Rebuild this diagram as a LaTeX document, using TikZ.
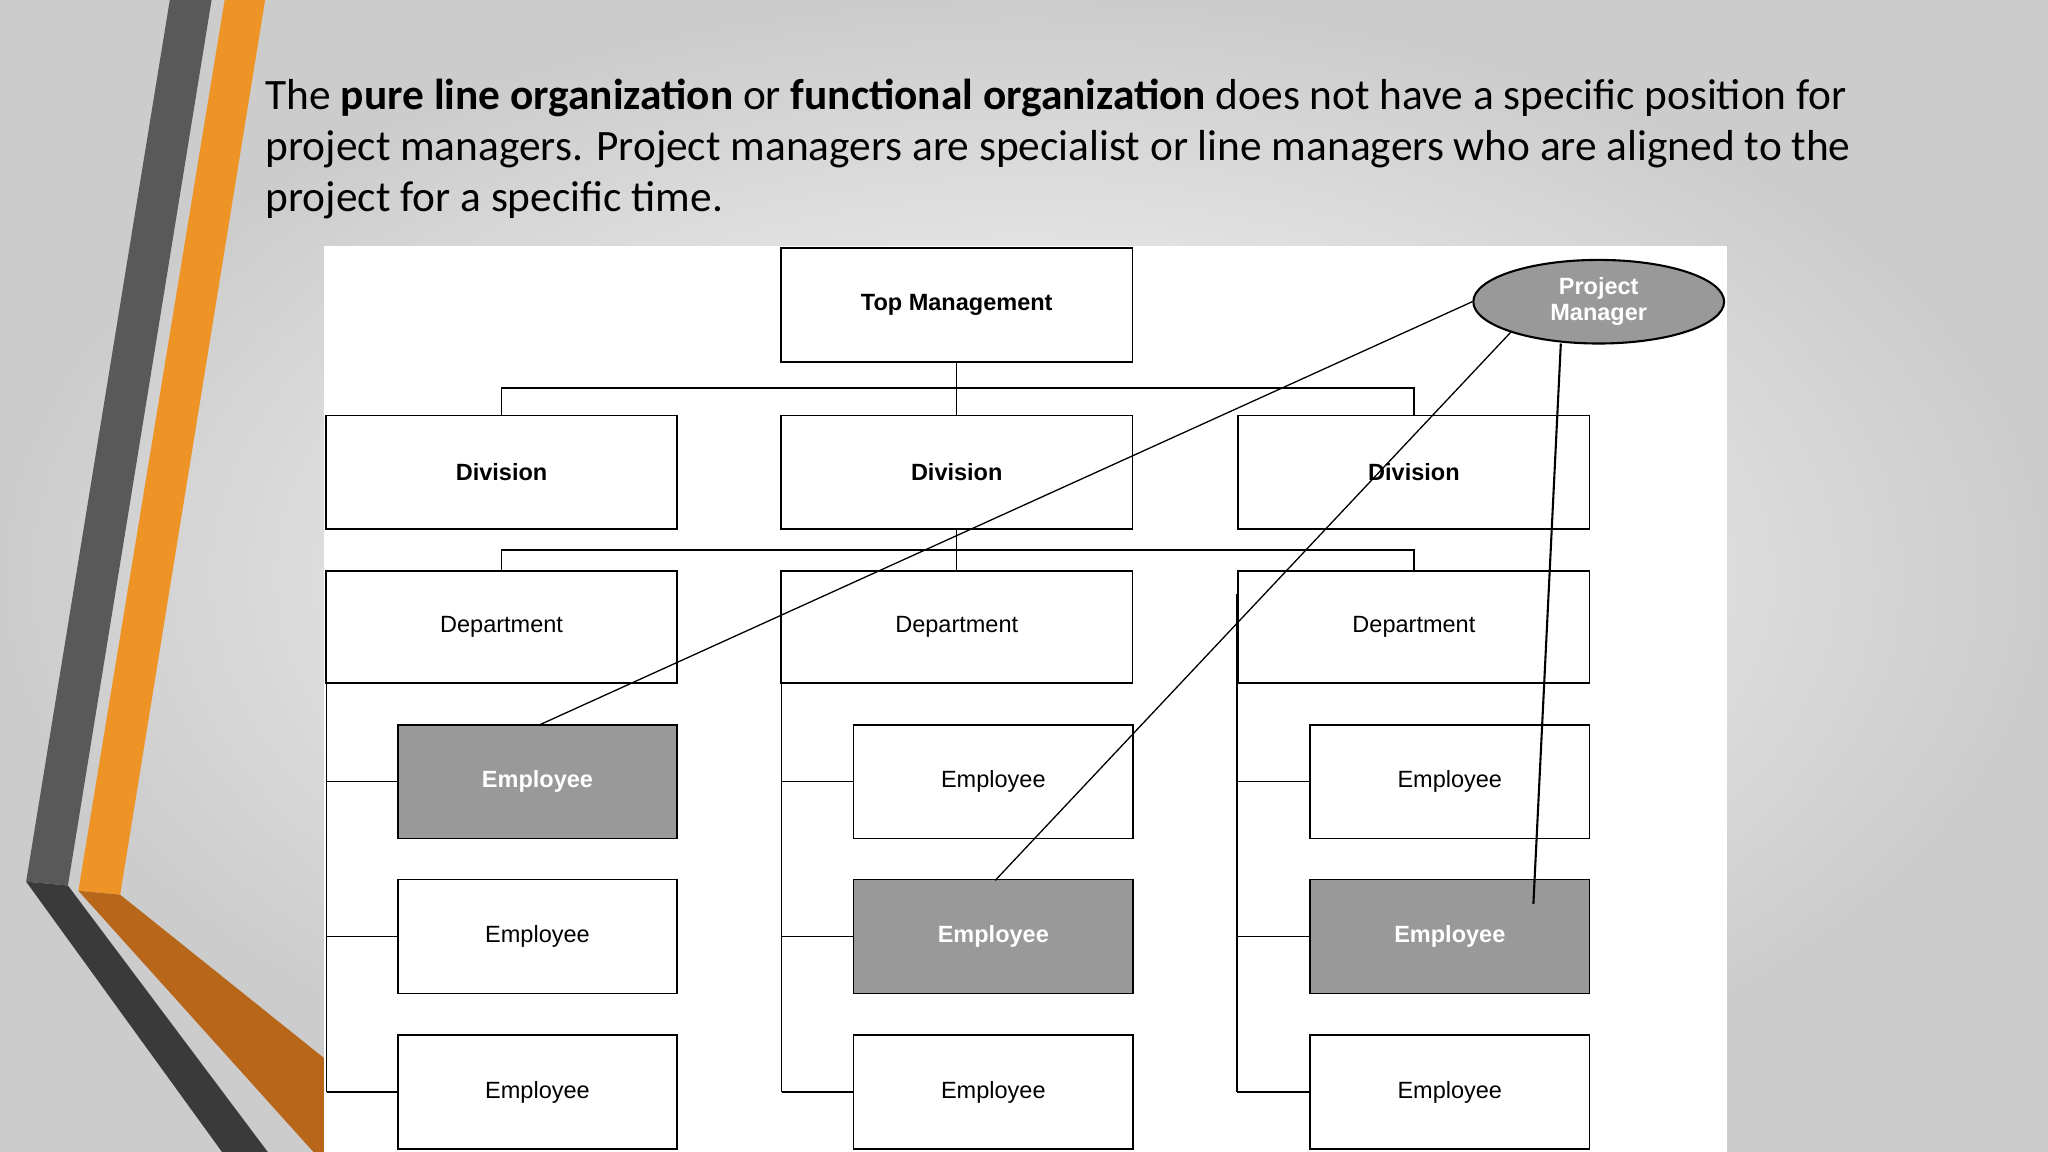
\documentclass[tikz,border=0pt]{standalone}
\usepackage{fontspec}
\usetikzlibrary{shapes.geometric}
\setmainfont{Carlito}
\newfontfamily\arialf{Liberation Sans}
\definecolor{orng}{HTML}{EE9427}
\definecolor{orngd}{HTML}{B8661A}
\definecolor{dgray}{HTML}{595959}
\definecolor{ddgray}{HTML}{3A3A3A}
\begin{document}
\begin{tikzpicture}[x=0.5pt,y=-0.5pt,
  bx/.style={draw=black,line width=0.6pt,fill=white,font=\arialf\fontsize{9}{10}\selectfont},
  gbx/.style={bx,fill=gray!80!white,text=white,font=\arialf\bfseries\fontsize{9}{10}\selectfont},
  ln/.style={line width=0.5pt,black}]
\useasboundingbox (0,0) rectangle (1568,882);
\shade[inner color=white,outer color=gray!40] (0,0) rectangle (1568,882);
% left decoration
\fill[dgray] (130,0) -- (162,0) -- (52,678) -- (20,675) -- cycle;
\fill[ddgray] (20,675) -- (52,678) -- (205,882) -- (170,882) -- cycle;
\fill[orng] (172,0) -- (203,0) -- (92,685) -- (60,682) -- cycle;
\fill[orngd] (60,682) -- (92,685) -- (248,810) -- (248,882) -- (240,882) -- cycle;
% title
\node[anchor=base west,inner sep=0,font=\fontsize{16.6}{19}\selectfont] (t1) at (203,84) {The \textbf{pure line organization} or \textbf{functional organization} does not have a specific position for};
\node[anchor=base west,inner sep=0,font=\fontsize{16.6}{19}\selectfont] (t2) at (203,123) {project managers. Project managers are specialist or line managers who are aligned to the};
\node[anchor=base west,inner sep=0,font=\fontsize{16.6}{19}\selectfont] (t3) at (203,162) {project for a specific time.};
% panel
\fill[white] (248,188) rectangle (1322,882);
% boxes
\node[bx,font=\arialf\bfseries\fontsize{9}{10}\selectfont,minimum width=134.5pt,minimum height=43.5pt] (top) at (732.5,233.5) {Top Management};
\foreach \x/\n in {384/1,732.5/2,1082.5/3}{
  \node[bx,font=\arialf\bfseries\fontsize{9}{10}\selectfont,minimum width=134.5pt,minimum height=43.5pt] (d\n) at (\x,361.5) {Division};
  \node[bx,minimum width=134.5pt,minimum height=43pt] (p\n) at (\x,480) {Department};
}
\foreach \x/\n in {411.5/1,760.5/2,1110/3}{
  \foreach \y/\r in {598.5/1,717/2,836/3}{
    \node[bx,minimum width=107pt,minimum height=43.5pt] (e\n\r) at (\x,\y) {Employee};
  }
}
\node[gbx,minimum width=107pt,minimum height=43.5pt] at (e11) {Employee};
\node[gbx,minimum width=107pt,minimum height=43.5pt] at (e22) {Employee};
\node[gbx,minimum width=107pt,minimum height=43.5pt] at (e32) {Employee};
% tree connectors
\coordinate (b1) at (732.5,297);
\draw[ln] (top.south) -- (b1);
\draw[ln] (d1.north) |- (b1) -| (d3.north);
\draw[ln] (b1) -- (d2.north);
\coordinate (b2) at (732.5,421);
\draw[ln] (d2.south) -- (b2);
\draw[ln] (p1.north) |- (b2) -| (p3.north);
\draw[ln] (b2) -- (p2.north);
\foreach \n/\xx in {1/250,2/598.5,3/947}{
  \draw[ln] (\xx,523) -- (\xx,836);
  \foreach \r in {1,2,3}{ \draw[ln] (\xx,0|-e\n\r.west) -- (e\n\r.west); }
}
\draw[line width=1pt] (947,455) -- (947,523);
% project manager
\node[draw=black,line width=0.8pt,ellipse,fill=gray!80!white,text=white,minimum width=96pt,minimum height=32pt,inner sep=0,align=center,font=\arialf\bfseries\fontsize{9}{10}\selectfont] (pm) at (1224,231) {Project\\Manager};
\coordinate (pa) at (1157,254);
\coordinate (pb) at (1195,263);
\coordinate (ea) at (413,555);
\coordinate (eb) at (762,674);
\coordinate (ec) at (1174,692);
\draw[ln] (pm.west) -- (ea);
\draw[ln] (pa) -- (eb);
\draw[line width=0.8pt] (pb) -- (ec);
\end{tikzpicture}
\end{document}
